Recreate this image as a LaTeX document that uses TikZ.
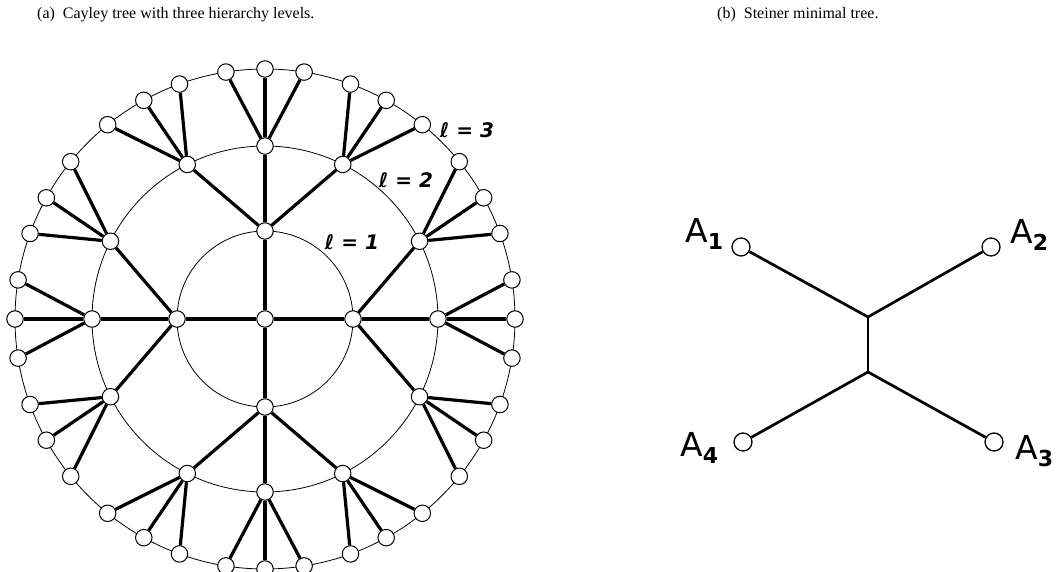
\documentclass[tikz,border=0pt]{standalone}
\usepackage{fontspec}
\setmainfont{Liberation Serif}
\newfontfamily\lblfont{DejaVu Sans}
\newfontfamily\afont{DejaVu Sans}
\newcommand{\asub}[1]{\raisebox{-7pt}{\fontsize{22}{22}\selectfont\bfseries #1}}
\begin{document}
\begin{tikzpicture}[x=1pt,y=1pt,
  vtx/.style={circle,draw,fill=white,inner sep=0pt,minimum size=16.5pt,line width=1pt},
  edge/.style={line width=3.2pt},
  ring/.style={line width=0.8pt},
  lvl/.style={font=\lblfont\bfseries\itshape\fontsize{20}{20}\selectfont,inner sep=0pt},
  term/.style={circle,draw,fill=white,inner sep=0pt,minimum size=18pt,line width=1.3pt},
  sedge/.style={line width=2.7pt},
  albl/.style={font=\afont\fontsize{33}{33}\selectfont,inner sep=0pt,anchor=base west},
  capt/.style={font=\fontsize{16}{19}\selectfont,inner sep=0pt,anchor=base west}]
\useasboundingbox (0,0) rectangle (1062,572);
% captions
\node[capt] (capa) at (37,553) {(a)\enspace Cayley tree with three hierarchy levels.};
\node[capt] (capb) at (717,553) {(b)\enspace Steiner minimal tree.};
% Cayley tree
\coordinate (O) at (265,253);
\draw[ring] (O) circle (88pt);
\draw[ring] (O) circle (173pt);
\draw[ring] (O) circle (250pt);
\node[vtx] (n0) at (O) {};
\foreach \i in {0,1,2,3} {
  \pgfmathsetmacro\t{90*\i}
  \node[vtx] (a\i) at ([shift={(\t:88pt)}]O) {};
  \draw[edge] (n0) -- (a\i);
  \foreach \j/\d in {1/-26.7,2/0,3/26.7} {
    \pgfmathsetmacro\u{\t+\d}
    \node[vtx] (b\i\j) at ([shift={(\u:173pt)}]O) {};
    \draw[edge] (a\i) -- (b\i\j);
  }
  \foreach \j/\k/\d in {1/1/-39,1/2/-29,1/3/-20,2/1/-9,2/2/0,2/3/9,3/1/20,3/2/29,3/3/39} {
    \pgfmathsetmacro\u{\t+\d}
    \node[vtx] (c\i\j\k) at ([shift={(\u:250pt)}]O) {};
    \draw[edge] (b\i\j) -- (c\i\j\k);
  }
}
\node[lvl] (l1) at (352,330) {ℓ = 1};
\node[lvl] (l2) at (406,392) {ℓ = 2};
\node[lvl] (l3) at (467,442) {ℓ = 3};
% Steiner tree
\node[term] (A1) at (741,325) {};
\node[term] (A2) at (991,325) {};
\node[term] (A4) at (743,130) {};
\node[term] (A3) at (994,130) {};
\coordinate (s1) at (868,255);
\coordinate (s2) at (868,200);
\draw[sedge] (A1) -- (s1) -- (A2);
\draw[sedge] (s1) -- (s2);
\draw[sedge] (A4) -- (s2) -- (A3);
\node[albl] (t1) at (685,329) {A\asub{1}};
\node[albl] (t2) at (1010,328) {A\asub{2}};
\node[albl] (t4) at (680,115) {A\asub{4}};
\node[albl] (t3) at (1015,112) {A\asub{3}};
\end{tikzpicture}
\end{document}
